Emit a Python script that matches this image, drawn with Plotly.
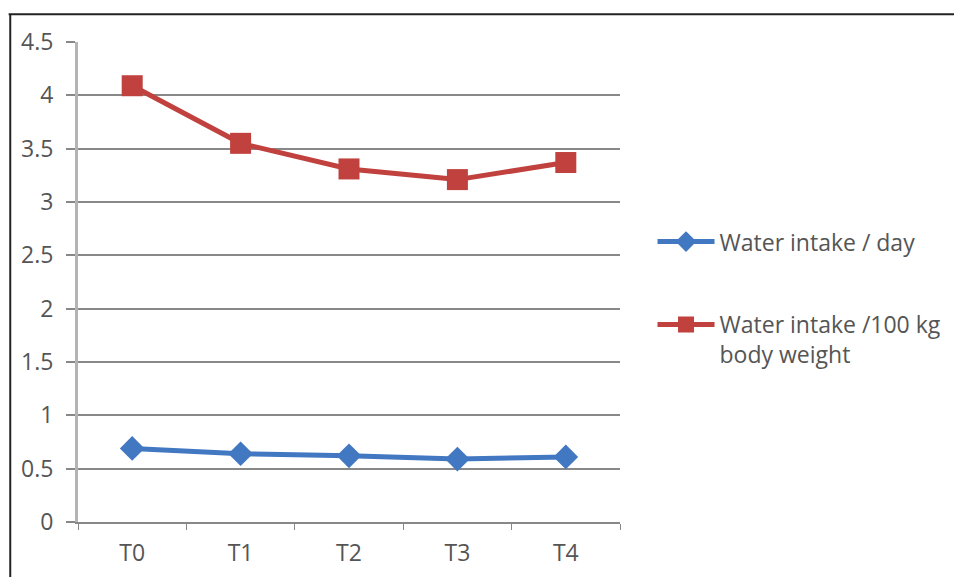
import plotly.graph_objects as go

periods = ["T0", "T1", "T2", "T3", "T4"]
intake_per_day = [0.69, 0.64, 0.62, 0.59, 0.61]
intake_per_100kg = [4.09, 3.55, 3.31, 3.21, 3.37]
y_ticks = [0, 0.5, 1, 1.5, 2, 2.5, 3, 3.5, 4, 4.5]
y_tick_text = ["0", "0.5", "1", "1.5", "2", "2.5", "3", "3.5", "4", "4.5"]

FONT = "'Open Sans', Lato, sans-serif"
TEXT_COLOR = "#555555"
GRID = "#888888"
FSIZE = 23

fig = go.Figure()
fig.add_trace(go.Scatter(
    x=periods, y=intake_per_day, mode="lines+markers",
    name="Water intake / day",
    line=dict(color="#4277C2", width=5),
    marker=dict(symbol="diamond", size=19, color="#4277C2"),
    legendgroup="a",
))
fig.add_trace(go.Scatter(
    x=periods, y=intake_per_100kg, mode="lines+markers",
    name="Water intake /100 kg<br>body weight",
    line=dict(color="#C0413E", width=5),
    marker=dict(symbol="square", size=21, color="#C0413E"),
    legendgroup="b",
))

fig.update_layout(
    width=954, height=577,
    margin=dict(l=78, r=334, t=42, b=55, autoexpand=False),
    paper_bgcolor="white", plot_bgcolor="white",
    font=dict(family=FONT, size=FSIZE, color=TEXT_COLOR),
    showlegend=True,
    legend=dict(
        x=1.06, y=0.629, xanchor="left", yanchor="top",
        traceorder="grouped", tracegroupgap=50, valign="top",
        font=dict(family=FONT, size=FSIZE, color=TEXT_COLOR),
        itemwidth=57, bgcolor="rgba(0,0,0,0)",
    ),
    xaxis=dict(
        type="category", range=[-0.5, 4.5], automargin=False,
        showgrid=False, showline=True, linecolor=GRID, linewidth=2,
        ticks="outside", ticklen=6, tickcolor=GRID, tickwidth=1,
        tickson="boundaries", ticklabelstandoff=9,
        tickfont=dict(family=FONT, size=FSIZE, color=TEXT_COLOR),
        fixedrange=True,
    ),
    yaxis=dict(
        range=[0, 4.5], tickvals=y_ticks, ticktext=y_tick_text, automargin=False,
        showgrid=True, gridcolor=GRID, gridwidth=2,
        showline=True, linecolor="#B4B4B4", linewidth=3,
        ticks="outside", ticklen=9, tickcolor=GRID, tickwidth=2,
        ticklabelstandoff=8,
        zeroline=False, tickfont=dict(family=FONT, size=FSIZE, color=TEXT_COLOR),
        fixedrange=True,
    ),
)

# Frame lines along the top and left edges of the chart
fig.add_shape(type="line", xref="paper", yref="paper",
              x0=-0.128, x1=1.62, y0=1.058, y1=1.058,
              line=dict(color="#222222", width=2))
fig.add_shape(type="line", xref="paper", yref="paper",
              x0=-0.125, x1=-0.125, y0=1.058, y1=-0.2,
              line=dict(color="#222222", width=2))

fig.write_html("out.html")
